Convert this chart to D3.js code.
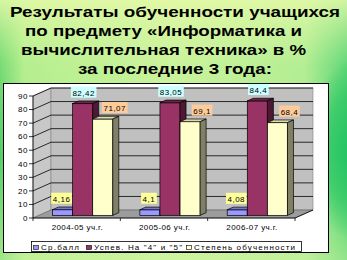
<!DOCTYPE html>
<html>
<head>
<meta charset="utf-8">
<script src="https://d3js.org/d3.v7.min.js"></script>
<style>
  body { margin: 0; }
  svg { display: block; font-family: Arial, "Liberation Sans", sans-serif; }
</style>
</head>
<body>
<script>
// chart data
var categories = ["2004-05 уч.г.", "2005-06 уч.г.", "2006-07 уч.г."];
var seriesNames = ["Ср.балл", "Успев. На \"4\" и \"5\"", "Степень обученности"];
var avgScore = [4.16, 4.1, 4.08];
var successRate = [82.42, 83.05, 84.4];
var learningLevel = [71.07, 69.1, 68.4];
var valueLabels = [["4,16", "4,1", "4,08"], ["82,42", "83,05", "84,4"], ["71,07", "69,1", "68,4"]];
var yTicks = [0, 10, 20, 30, 40, 50, 60, 70, 80, 90];
var titleLines = ["Результаты обученности учащихся", "по предмету «Информатика и",
                  "вычислительная техника» в %", "за последние 3 года:"];

var W = 347, H = 260;
var svg = d3.select("body").append("svg").attr("width", W).attr("height", H);
var defs = svg.append("defs");

// background
var lg = defs.append("linearGradient").attr("id", "bgH");
lg.append("stop").attr("offset", "0%").attr("stop-color", "#4fcf63");
lg.append("stop").attr("offset", "7%").attr("stop-color", "#a8ec88");
lg.append("stop").attr("offset", "50%").attr("stop-color", "#c6f29a");
lg.append("stop").attr("offset", "88%").attr("stop-color", "#a5ea8e");
lg.append("stop").attr("offset", "100%").attr("stop-color", "#2fca68");
var vg = defs.append("linearGradient").attr("id", "bgV").attr("x2", 0).attr("y2", 1);
vg.append("stop").attr("offset", "0%").attr("stop-color", "#e4f9a8").attr("stop-opacity", 0.9);
vg.append("stop").attr("offset", "25%").attr("stop-color", "#d6f6a0").attr("stop-opacity", 0.3);
vg.append("stop").attr("offset", "60%").attr("stop-color", "#d6f6a0").attr("stop-opacity", 0);
vg.append("stop").attr("offset", "100%").attr("stop-color", "#d4f5a2").attr("stop-opacity", 0.6);
var rg = defs.append("radialGradient").attr("id", "bgR")
  .attr("gradientUnits", "userSpaceOnUse").attr("cx", 352).attr("cy", 150).attr("r", 90)
  .attr("gradientTransform", "translate(352,150) scale(0.5,1) translate(-352,-150)");
rg.append("stop").attr("offset", "0%").attr("stop-color", "#22c466").attr("stop-opacity", 1);
rg.append("stop").attr("offset", "60%").attr("stop-color", "#33c866").attr("stop-opacity", 0.7);
rg.append("stop").attr("offset", "100%").attr("stop-color", "#33c866").attr("stop-opacity", 0);
svg.append("rect").attr("width", W).attr("height", H).attr("fill", "url(#bgH)");
svg.append("rect").attr("width", W).attr("height", H).attr("fill", "url(#bgV)");
svg.append("rect").attr("width", W).attr("height", H).attr("fill", "url(#bgR)");

// title
var titleX = [[10, 330], [25, 277], [21, 285], [78, 194]];
svg.selectAll("text.title").data(titleLines).enter().append("text")
  .attr("class", "title")
  .attr("x", function(d, i) { return titleX[i][0]; })
  .attr("y", function(d, i) { return 17 + i * 19; })
  .attr("textLength", function(d, i) { return titleX[i][1]; })
  .attr("lengthAdjust", "spacingAndGlyphs")
  .style("font-size", "15px").style("font-weight", "bold").attr("fill", "#000")
  .text(function(d) { return d; });

// chart panel
svg.append("rect").attr("x", 3.5).attr("y", 83.5).attr("width", 325).attr("height", 169)
  .attr("fill", "#fff").attr("stroke", "#000").attr("stroke-width", 1);

// scales
var x = d3.scaleBand().domain(categories).range([33, 295]);
var y = d3.scaleLinear().domain([0, 90]).range([218, 96]);
var DX = 18, DY = -8;   // depth of the floor
var bw = x.bandwidth();
var groupW = bw * 0.69;
var sx = d3.scaleBand().domain(d3.range(3)).range([0, groupW]);

// walls
var x0 = x.range()[0], x1 = x.range()[1];
svg.append("polygon")
  .attr("points", [[x0, y(0)], [x0 + DX, y(0) + DY], [x0 + DX, y(90) + DY], [x0, y(90)]].join(" "))
  .attr("fill", "#c8c8c8").attr("stroke", "#808080").attr("stroke-width", 0.6);
svg.append("rect").attr("x", x0 + DX).attr("y", y(90) + DY)
  .attr("width", x1 - x0).attr("height", y(0) - y(90))
  .attr("fill", "#c0c0c0").attr("stroke", "#808080").attr("stroke-width", 0.6);
svg.append("polygon")
  .attr("points", [[x0, y(0)], [x1, y(0)], [x1 + DX, y(0) + DY], [x0 + DX, y(0) + DY]].join(" "))
  .attr("fill", "#9c9c9c").attr("stroke", "#606060").attr("stroke-width", 0.6);

// gridlines
yTicks.forEach(function(v) {
  if (v === 0) return;
  svg.append("line").attr("x1", x0 + DX).attr("x2", x1 + DX)
    .attr("y1", y(v) + DY).attr("y2", y(v) + DY).attr("stroke", "#000").attr("stroke-width", 0.8);
  svg.append("line").attr("x1", x0).attr("x2", x0 + DX)
    .attr("y1", y(v)).attr("y2", y(v) + DY).attr("stroke", "#000").attr("stroke-width", 0.8);
});

// axes
svg.append("line").attr("x1", x0).attr("x2", x0).attr("y1", y(90)).attr("y2", y(0))
  .attr("stroke", "#000").attr("stroke-width", 0.8);
svg.append("line").attr("x1", x0).attr("x2", x1).attr("y1", y(0)).attr("y2", y(0))
  .attr("stroke", "#000").attr("stroke-width", 0.8);
svg.append("line").attr("x1", x1).attr("x2", x1 + DX).attr("y1", y(0)).attr("y2", y(0) + DY)
  .attr("stroke", "#000").attr("stroke-width", 0.8);
yTicks.forEach(function(v) {
  svg.append("line").attr("x1", x0 - 4).attr("x2", x0).attr("y1", y(v)).attr("y2", y(v))
    .attr("stroke", "#000").attr("stroke-width", 0.8);
  svg.append("text").attr("x", x0 - 5).attr("y", y(v) + 2.8).attr("text-anchor", "end")
    .style("font-size", "8px").style("letter-spacing", "0.6px").text(v);
});
categories.concat(["end"]).forEach(function(c, i) {
  var xx = x0 + i * bw;
  svg.append("line").attr("x1", xx).attr("x2", xx).attr("y1", y(0)).attr("y2", y(0) + 3)
    .attr("stroke", "#000").attr("stroke-width", 0.8);
});
svg.selectAll("text.cat").data(categories).enter().append("text")
  .attr("x", function(d) { return x(d) + bw / 2 - 25; }).attr("y", 230)
  .attr("textLength", 51).attr("lengthAdjust", "spacing")
  .style("font-size", "8px").text(function(d) { return d; });

// 3D bars
var colors = [
  { front: "#9999ff", top: "#7777cc", side: "#4d4d80" },
  { front: "#993366", top: "#6e2449", side: "#4d1933" },
  { front: "#ffffcc", top: "#dcdcaa", side: "#808066" }
];
var labelBg = ["#ffff99", "#ccffff", "#ffcc99"];
var labelShift = [-1, 1, 12];
var values = [avgScore, successRate, learningLevel];
var ox = DX / 3, oy = DY / 3;   // bars sit a third deep
var bdx = DX / 3, bdy = DY / 3; // bar depth
var bars = svg.append("g");
var labels = svg.append("g");

categories.forEach(function(c, ci) {
  values.forEach(function(vals, si) {
    var col = colors[si];
    var l = x(c) + (bw - groupW) / 2 + sx(si) + ox;
    var r = l + sx.bandwidth();
    var t = y(vals[ci]) + oy;
    var b = y(0) + oy;
    bars.append("rect").attr("x", l).attr("y", t).attr("width", r - l).attr("height", b - t)
      .attr("fill", col.front).attr("stroke", "#000").attr("stroke-width", 0.7);
    bars.append("polygon")
      .attr("points", [[l, t], [l + bdx, t + bdy], [r + bdx, t + bdy], [r, t]].join(" "))
      .attr("fill", col.top).attr("stroke", "#000").attr("stroke-width", 0.7);
    bars.append("polygon")
      .attr("points", [[r, t], [r + bdx, t + bdy], [r + bdx, b + bdy], [r, b]].join(" "))
      .attr("fill", col.side).attr("stroke", "#000").attr("stroke-width", 0.7);

    var txt = valueLabels[si][ci];
    var cx = (l + r) / 2 + labelShift[si];
    var g = labels.append("g");
    var tEl = g.append("text").attr("x", cx).attr("y", t - 8).attr("text-anchor", "middle")
      .style("font-size", "8px").style("letter-spacing", "0.5px").text(txt);
    var bb = tEl.node().getBBox();
    g.insert("rect", "text").attr("x", bb.x - 1.5).attr("y", t - 17).attr("width", bb.width + 3)
      .attr("height", 11).attr("fill", labelBg[si]);
  });
});

// legend
svg.append("rect").attr("x", 31.5).attr("y", 241.5).attr("width", 270).attr("height", 10)
  .attr("fill", "#fff").attr("stroke", "#000").attr("stroke-width", 0.8);
var legX = [33, 86, 186];
var legW = [38, 88, 101];
seriesNames.forEach(function(n, i) {
  svg.append("rect").attr("x", legX[i] + 0.5).attr("y", 245.5).attr("width", 5).attr("height", 4)
    .attr("fill", colors[i].front).attr("stroke", "#000").attr("stroke-width", 0.6);
  svg.append("text").attr("x", legX[i] + 8).attr("y", 249.5)
    .attr("textLength", legW[i]).attr("lengthAdjust", "spacing")
    .style("font-size", "8px").text(n);
});
</script>
</body>
</html>
